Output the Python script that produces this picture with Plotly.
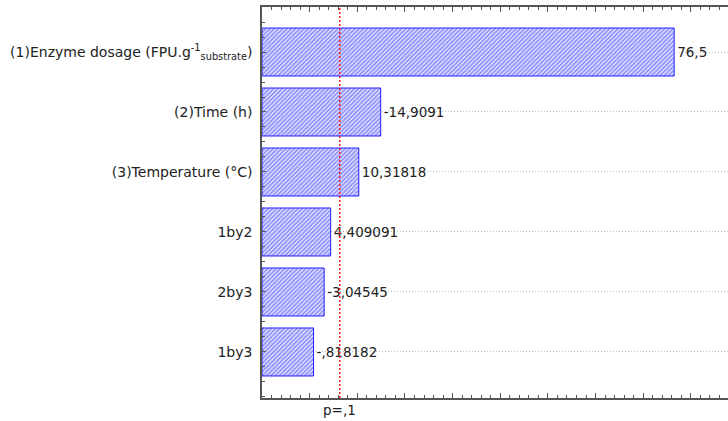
import plotly.graph_objects as go

# Pareto chart of effects (|effect| drawn from the axis origin)
factors = [
    "(1)Enzyme dosage (FPU.g<sup>-1</sup><sub>substrate</sub>)",
    "(2)Time (h)",
    "(3)Temperature (°C)",
    "1by2",
    "2by3",
    "1by3",
]
effects = [76.5, -14.9091, 10.31818, 4.409091, -3.04545, -0.818182]
p_critical = 6.314  # t value at p = .1
p_label = "p=,1"

AXIS_MIN = -10
AXIS_MAX = 87.8
FONT = "DejaVu Sans, Verdana, sans-serif"


def stat_fmt(v):
    s = f"{v:.7g}"
    s = s.replace("-0.", "-.").replace("0.", ".") if abs(v) < 1 else s
    return s.replace(".", ",")


# largest effect on top
n = len(factors)
ypos = list(range(n - 1, -1, -1))
lengths = [abs(v) - AXIS_MIN for v in effects]
labels = [stat_fmt(v) for v in effects]

fig = go.Figure()
fig.add_trace(go.Bar(
    x=lengths,
    y=ypos,
    base=AXIS_MIN,
    orientation="h",
    width=0.8,
    marker=dict(
        color="white",
        line=dict(color="#2020ff", width=1),
        pattern=dict(shape="/", fgcolor="#2a2aff", bgcolor="white",
                     size=3, solidity=0.7),
    ),
    text=labels,
    textposition="outside",
    textfont=dict(family=FONT, size=13.5, color="#222"),
    cliponaxis=False,
    showlegend=False,
))

# significance threshold
fig.add_shape(type="line", xref="x", yref="paper",
              x0=p_critical, x1=p_critical, y0=0, y1=1,
              line=dict(color="#ff1a1a", width=1.5, dash="2px,2px"))
fig.add_annotation(x=p_critical, xref="x", y=-0.005, yref="paper",
                   text=p_label, showarrow=False, yanchor="top",
                   font=dict(family=FONT, size=13.5, color="#222"))

fig.update_layout(
    width=728, height=421,
    margin=dict(l=262, r=0, t=7, b=23),
    plot_bgcolor="white", paper_bgcolor="white",
    font=dict(family=FONT, size=14, color="#222"),
    bargap=0.2,
    xaxis=dict(
        range=[AXIS_MIN, AXIS_MAX],
        showgrid=False, zeroline=False,
        showline=True, linecolor="#555", linewidth=1.5, mirror="ticks",
        ticks="inside", dtick=10, tick0=0, ticklen=5, tickcolor="#555",
        minor=dict(dtick=2, ticks="inside", ticklen=3, tickcolor="#555"),
        showticklabels=False,
    ),
    yaxis=dict(
        range=[-0.767, n - 0.25],
        tickmode="array", tickvals=ypos, ticktext=factors,
        showgrid=True, gridcolor="#bdbdbd", griddash="1px,2px", gridwidth=1,
        zeroline=False,
        showline=True, linecolor="#555", linewidth=1.5,
        ticks="inside", ticklen=4, tickcolor="#555",
        minor=dict(dtick=0.25, tick0=0, ticks="inside", ticklen=3,
                   tickcolor="#555", showgrid=False),
        ticklabelstandoff=5,
    ),
)

fig.write_html("out.html")
